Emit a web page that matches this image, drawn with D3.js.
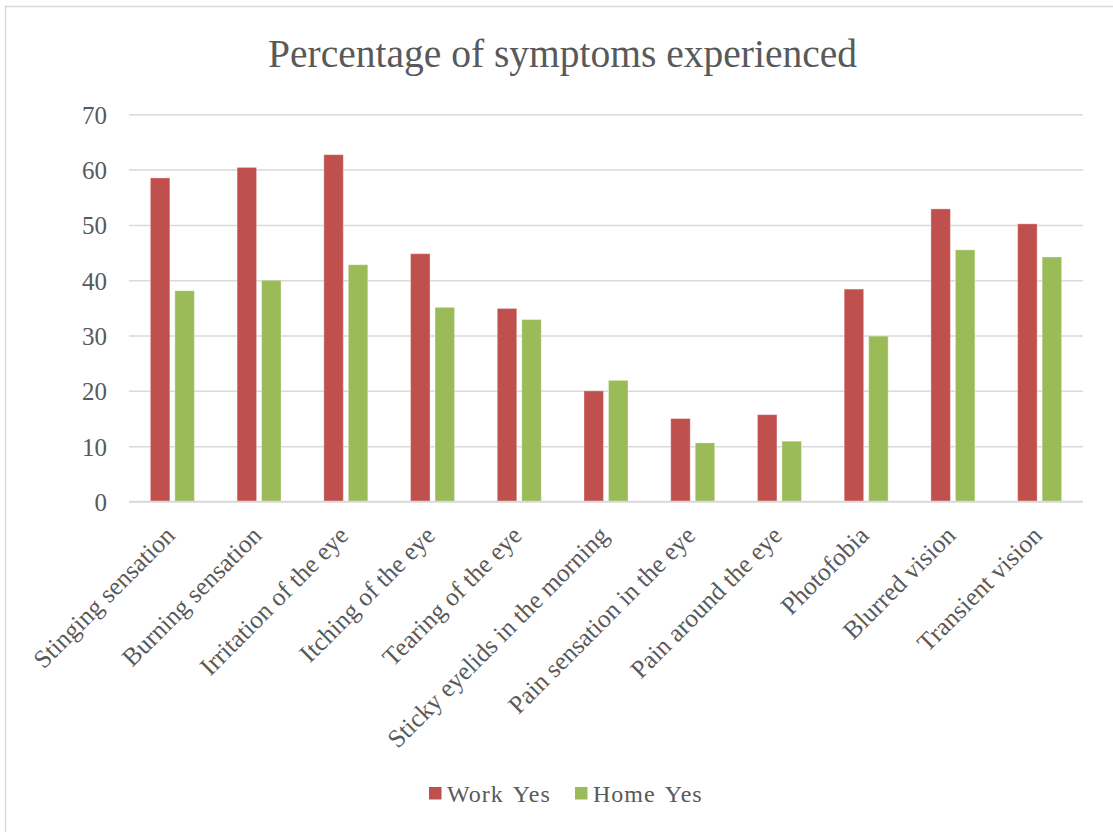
<!DOCTYPE html>
<html>
<head>
<meta charset="utf-8">
<script src="https://cdn.jsdelivr.net/npm/d3@7"></script>
<style>
  html, body { margin: 0; padding: 0; background: #ffffff; }
  svg { display: block; }
  text { font-family: "Liberation Serif", "DejaVu Serif", serif; fill: #595959; }
</style>
</head>
<body>
<svg id="chart" width="1113" height="832"></svg>
<script>
// Symptom categories and percentages per setting
const categories = [
  "Stinging sensation",
  "Burning sensation",
  "Irritation of the eye",
  "Itching of the eye",
  "Tearing of the eye",
  "Sticky eyelids in the morning",
  "Pain sensation in the eye",
  "Pain around the eye",
  "Photofobia",
  "Blurred vision",
  "Transient vision"
];
const workYes = [58.5, 60.4, 62.7, 44.8, 34.9, 20.0, 15.0, 15.7, 38.4, 52.9, 50.2];
const homeYes = [38.1, 40.0, 42.8, 35.1, 32.9, 21.9, 10.6, 10.9, 29.9, 45.5, 44.2];
const seriesNames = ["Work Yes", "Home Yes"];
const seriesColors = ["#C0504D", "#9BBB59"];
const yTicks = [0, 10, 20, 30, 40, 50, 60, 70];
const titleText = "Percentage of symptoms experienced";

const svg = d3.select("#chart");

// Chart area border
svg.append("rect")
  .attr("x", 5.5).attr("y", 6.5)
  .attr("width", 1200).attr("height", 900)
  .attr("fill", "none")
  .attr("stroke", "#d9d9d9")
  .attr("stroke-width", 1.5);

const plot = { left: 129, right: 1083, top: 114.3, bottom: 501.5 };

const x = d3.scaleBand()
  .domain(categories)
  .range([plot.left, plot.right])
  .paddingInner(0)
  .paddingOuter(0);

const y = d3.scaleLinear()
  .domain([0, 70])
  .range([plot.bottom, plot.top]);

// Horizontal gridlines with value labels
const yAxis = d3.axisLeft(y)
  .tickValues(yTicks)
  .tickSize(-(plot.right - plot.left))
  .tickPadding(22)
  .tickFormat(d3.format("d"));

const gy = svg.append("g")
  .attr("transform", `translate(${plot.left},0)`)
  .call(yAxis);
gy.select(".domain").remove();
gy.selectAll(".tick line")
  .attr("stroke", "#d9d9d9")
  .attr("stroke-width", 1.5);
gy.selectAll(".tick text")
  .attr("font-size", 25)
  .attr("fill", "#595959")
  .attr("dy", "0.36em")
  .style("font-family", "'Liberation Serif', serif");

// Grouped bars
const groupWidth = x.bandwidth();
const barW = 19.5;
const barGap = 5;
const pairW = barW * 2 + barGap;

const rows = categories.map((c, i) => ({ cat: c, vals: [workYes[i], homeYes[i]] }));

const groups = svg.append("g").selectAll("g")
  .data(rows)
  .join("g")
  .attr("transform", d => `translate(${x(d.cat)},0)`);

groups.selectAll("rect")
  .data(d => d.vals.map((v, k) => ({ v, k })))
  .join("rect")
  .attr("x", d => (groupWidth - pairW) / 2 + d.k * (barW + barGap))
  .attr("width", barW)
  .attr("y", d => y(d.v))
  .attr("height", d => y(0) - y(d.v))
  .attr("fill", d => seriesColors[d.k])
  .attr("stroke", "rgba(255,255,255,0.35)")
  .attr("stroke-width", 1);

// Category baseline
svg.append("line")
  .attr("x1", plot.left).attr("x2", plot.right)
  .attr("y1", y(0)).attr("y2", y(0))
  .attr("stroke", "#d9d9d9")
  .attr("stroke-width", 1.5);

// Rotated category labels
svg.append("g").selectAll("text")
  .data(categories)
  .join("text")
  .attr("transform", d => `translate(${x(d) + groupWidth / 2 + 4},${537}) rotate(-45)`)
  .attr("text-anchor", "end")
  .attr("font-size", 25.5)
  .text(d => d);

// Title
const title = svg.append("text")
  .attr("x", 562.5)
  .attr("y", 67)
  .attr("text-anchor", "middle")
  .attr("font-size", 40)
  .text(titleText);
const tw = title.node().getComputedTextLength();
title.attr("font-size", 40 * 589 / tw);

// Legend
const legendItems = [
  { name: seriesNames[0], color: seriesColors[0], x: 429 },
  { name: seriesNames[1], color: seriesColors[1], x: 575 }
];
const lg = svg.append("g").selectAll("g")
  .data(legendItems)
  .join("g")
  .attr("transform", d => `translate(${d.x},787)`);
lg.append("rect")
  .attr("width", 12.5).attr("height", 12.5)
  .attr("fill", d => d.color);
lg.append("text")
  .attr("x", 18)
  .attr("y", 15)
  .attr("font-size", 24)
  .attr("letter-spacing", 1)
  .attr("word-spacing", 3)
  .text(d => d.name);
</script>
</body>
</html>
